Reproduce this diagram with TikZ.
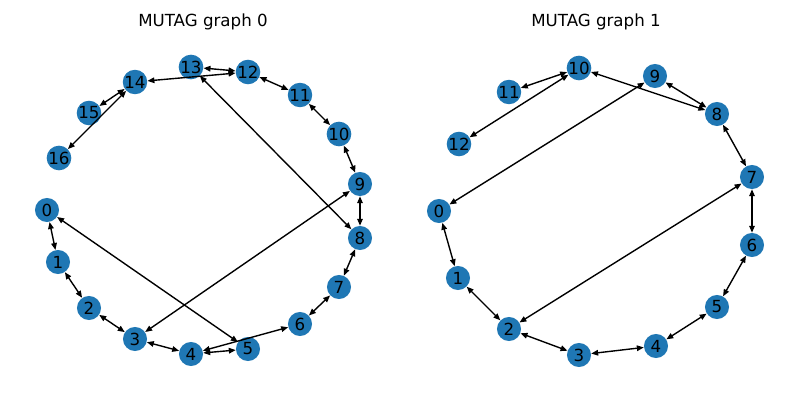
\documentclass[tikz,border=0pt]{standalone}
\usepackage{fontspec}
\setmainfont{DejaVu Sans}
\usetikzlibrary{arrows.meta}
\definecolor{tabblue}{HTML}{1F77B4}
\begin{document}
\begin{tikzpicture}[x=0.72pt,y=-0.72pt,
  vtx/.style={circle,fill=tabblue,minimum size=17.3pt,inner sep=0pt,font=\fontsize{12}{12}\selectfont},
  edge/.style={draw=black,line width=1pt,{Triangle[length=5pt,width=4pt]}-{Triangle[length=5pt,width=4pt]}},
  ttl/.style={font=\fontsize{12}{14}\selectfont}]
\useasboundingbox (0,0) rectangle (800,400);
\node[ttl] (t0) at (203,22) {MUTAG graph 0};
\node[ttl] (t1) at (596,22) {MUTAG graph 1};
% left graph
\node[vtx] (a0) at (47,210) {0};
\node[vtx] (a1) at (58,262) {1};
\node[vtx] (a2) at (89,308) {2};
\node[vtx] (a3) at (135,339) {3};
\node[vtx] (a4) at (191,354) {4};
\node[vtx] (a5) at (248,349) {5};
\node[vtx] (a6) at (300,324) {6};
\node[vtx] (a7) at (339,287) {7};
\node[vtx] (a8) at (360,238) {8};
\node[vtx] (a9) at (360,184) {9};
\node[vtx] (a10) at (339,134) {10};
\node[vtx] (a11) at (300,95) {11};
\node[vtx] (a12) at (248,72) {12};
\node[vtx] (a13) at (191,67) {13};
\node[vtx] (a14) at (135,82) {14};
\node[vtx] (a15) at (89,113) {15};
\node[vtx] (a16) at (59,158) {16};
\begin{scope}[on background layer/.try]
\foreach \u/\v in {0/1,1/2,2/3,3/4,4/5,4/6,0/5,3/9,6/7,7/8,8/9,9/10,10/11,11/12,12/13,12/14,13/8,14/15,14/16}
  \path[edge] (a\u) -- (a\v);
\end{scope}
% right graph
\node[vtx] (b0) at (439,211) {0};
\node[vtx] (b1) at (458,278) {1};
\node[vtx] (b2) at (509,329) {2};
\node[vtx] (b3) at (579,355) {3};
\node[vtx] (b4) at (656,346) {4};
\node[vtx] (b5) at (717,307) {5};
\node[vtx] (b6) at (752,245) {6};
\node[vtx] (b7) at (752,177) {7};
\node[vtx] (b8) at (717,114) {8};
\node[vtx] (b9) at (655,76) {9};
\node[vtx] (b10) at (579,68) {10};
\node[vtx] (b11) at (509,92) {11};
\node[vtx] (b12) at (459,144) {12};
\foreach \u/\v in {0/1,1/2,2/3,3/4,4/5,5/6,6/7,7/8,8/9,8/10,10/11,10/12,9/0,7/2}
  \path[edge] (b\u) -- (b\v);
\end{tikzpicture}
\end{document}
